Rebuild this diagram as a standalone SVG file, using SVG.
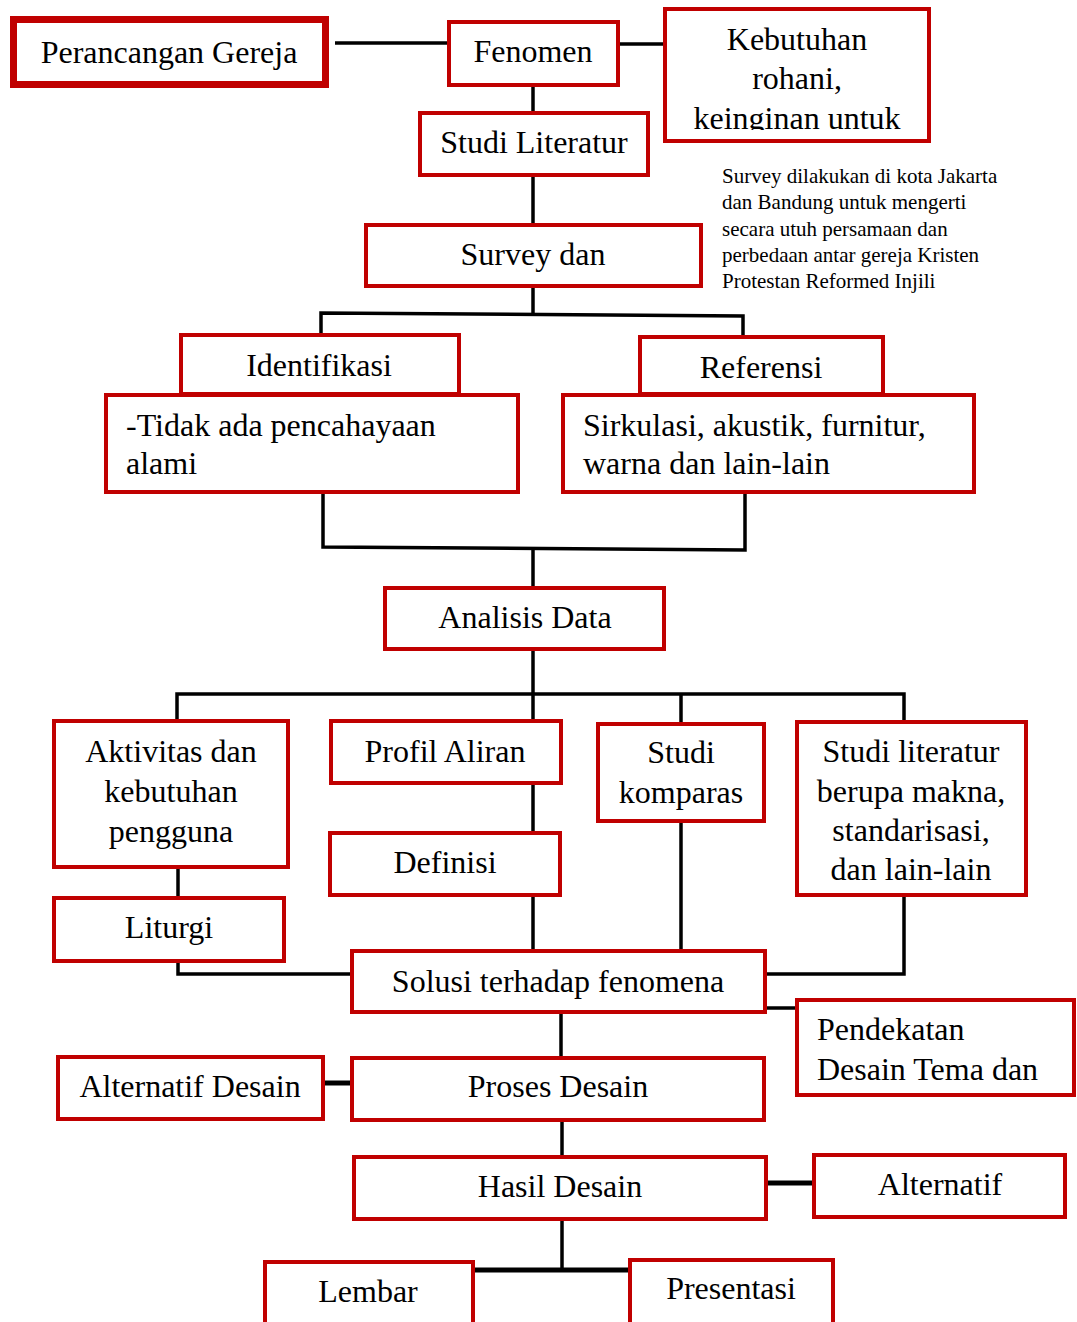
<svg xmlns="http://www.w3.org/2000/svg" width="1077" height="1322" viewBox="0 0 1077 1322">
<defs>
<style>
.box{fill:#ffffff;stroke:#C00000;stroke-width:4}
.thick{stroke-width:7}
.t{font-family:"Liberation Serif","Times New Roman",serif;font-size:32px;fill:#000000}
.c{text-anchor:middle}
.note{font-family:"Liberation Serif","Times New Roman",serif;font-size:21px;fill:#000000}
.ln{fill:none;stroke:#000000;stroke-width:3.5}
.lnb{fill:none;stroke:#000000;stroke-width:5}
</style>
<clipPath id="clipKeb"><rect x="665" y="9" width="264" height="121"/></clipPath>
</defs>
<rect width="1077" height="1322" fill="#ffffff"/>
<g id="connectors">
<path class="ln" d="M335,43 H447"/>
<path class="ln" d="M618,44 H664"/>
<path class="ln" d="M533,87 V111"/>
<path class="ln" d="M533,177 V223"/>
<path class="ln" d="M533,288 V314"/>
<path class="ln" d="M321,334 V313 L743,316 V336"/>
<path class="ln" d="M323,494 V547 L745,550 V494"/>
<path class="ln" d="M533,548 V586"/>
<path class="ln" d="M533,651 V719"/>
<path class="ln" d="M177,719 V694 H904 V720"/>
<path class="ln" d="M681,694 V722"/>
<path class="ln" d="M533,785 V831"/>
<path class="ln" d="M533,897 V949"/>
<path class="ln" d="M178,869 V897"/>
<path class="ln" d="M178,963 V974 H350"/>
<path class="ln" d="M681,823 V949"/>
<path class="ln" d="M904,897 V974 H767"/>
<path class="ln" d="M767,1008 H795"/>
<path class="ln" d="M561,1014 V1056"/>
<path class="lnb" d="M325,1083 H350"/>
<path class="ln" d="M562,1122 V1155"/>
<path class="lnb" d="M768,1183 H812"/>
<path class="ln" d="M562,1221 V1270"/>
<path class="lnb" d="M475,1270 H628"/>
</g>
<g id="perancangan">
<rect class="box thick" x="13.5" y="19.5" width="312" height="65"/>
<text class="t c" x="169" y="63">Perancangan Gereja</text>
</g>
<g id="fenomen">
<rect class="box" x="449" y="22" width="169" height="63"/>
<text class="t c" x="533" y="62">Fenomen</text>
</g>
<g id="kebutuhan">
<rect class="box" x="665" y="9" width="264" height="132"/>
<g clip-path="url(#clipKeb)">
<text class="t c" x="797" y="50">Kebutuhan</text>
<text class="t c" x="797" y="89">rohani,</text>
<text class="t c" x="797" y="129">keinginan untuk</text>
</g>
</g>
<g id="studi-literatur">
<rect class="box" x="420" y="113" width="228" height="62"/>
<text class="t c" x="534" y="153">Studi Literatur</text>
</g>
<g id="survey">
<rect class="box" x="366" y="225" width="335" height="61"/>
<text class="t c" x="533" y="265">Survey dan</text>
</g>
<g id="survey-note">
<text class="note" x="722" y="183">Survey dilakukan di kota Jakarta</text>
<text class="note" x="722" y="209">dan Bandung untuk mengerti</text>
<text class="note" x="722" y="236">secara utuh persamaan dan</text>
<text class="note" x="722" y="262">perbedaan antar gereja Kristen</text>
<text class="note" x="722" y="288">Protestan Reformed Injili</text>
</g>
<g id="identifikasi">
<rect class="box" x="181" y="335" width="278" height="59"/>
<text class="t c" x="319" y="376">Identifikasi</text>
</g>
<g id="tidak-ada">
<rect class="box" x="106" y="395" width="412" height="97"/>
<text class="t" x="126" y="436">-Tidak ada pencahayaan</text>
<text class="t" x="126" y="474">alami</text>
</g>
<g id="referensi">
<rect class="box" x="640" y="337" width="243" height="57"/>
<text class="t c" x="761" y="378">Referensi</text>
</g>
<g id="sirkulasi">
<rect class="box" x="563" y="395" width="411" height="97"/>
<text class="t" x="583" y="436">Sirkulasi, akustik, furnitur,</text>
<text class="t" x="583" y="474">warna dan lain-lain</text>
</g>
<g id="analisis">
<rect class="box" x="385" y="588" width="279" height="61"/>
<text class="t c" x="525" y="628">Analisis Data</text>
</g>
<g id="aktivitas">
<rect class="box" x="54" y="721" width="234" height="146"/>
<text class="t c" x="171" y="762">Aktivitas dan</text>
<text class="t c" x="171" y="802">kebutuhan</text>
<text class="t c" x="171" y="842">pengguna</text>
</g>
<g id="liturgi">
<rect class="box" x="54" y="898" width="230" height="63"/>
<text class="t c" x="169" y="938">Liturgi</text>
</g>
<g id="profil">
<rect class="box" x="331" y="721" width="230" height="62"/>
<text class="t c" x="445" y="762">Profil Aliran</text>
</g>
<g id="definisi">
<rect class="box" x="330" y="833" width="230" height="62"/>
<text class="t c" x="445" y="873">Definisi</text>
</g>
<g id="komparas">
<rect class="box" x="598" y="724" width="166" height="97"/>
<text class="t c" x="681" y="763">Studi</text>
<text class="t c" x="681" y="803">komparas</text>
</g>
<g id="studi-lit-makna">
<rect class="box" x="797" y="722" width="229" height="173"/>
<text class="t c" x="911" y="762">Studi literatur</text>
<text class="t c" x="911" y="802">berupa makna,</text>
<text class="t c" x="911" y="841">standarisasi,</text>
<text class="t c" x="911" y="880">dan lain-lain</text>
</g>
<g id="solusi">
<rect class="box" x="352" y="951" width="413" height="61"/>
<text class="t c" x="558" y="992">Solusi terhadap fenomena</text>
</g>
<g id="pendekatan">
<rect class="box" x="797" y="1000" width="277" height="95"/>
<text class="t" x="817" y="1040">Pendekatan</text>
<text class="t" x="817" y="1080">Desain Tema dan</text>
</g>
<g id="alternatif-desain">
<rect class="box" x="58" y="1057" width="265" height="62"/>
<text class="t c" x="190" y="1097">Alternatif Desain</text>
</g>
<g id="proses">
<rect class="box" x="352" y="1058" width="412" height="62"/>
<text class="t c" x="558" y="1097">Proses Desain</text>
</g>
<g id="hasil">
<rect class="box" x="354" y="1157" width="412" height="62"/>
<text class="t c" x="560" y="1197">Hasil Desain</text>
</g>
<g id="alternatif">
<rect class="box" x="814" y="1155" width="251" height="62"/>
<text class="t c" x="940" y="1195">Alternatif</text>
</g>
<g id="lembar">
<rect class="box" x="265" y="1262" width="208" height="70"/>
<text class="t c" x="368" y="1302">Lembar</text>
</g>
<g id="presentasi">
<rect class="box" x="630" y="1260" width="203" height="70"/>
<text class="t c" x="731" y="1299">Presentasi</text>
</g>
</svg>
